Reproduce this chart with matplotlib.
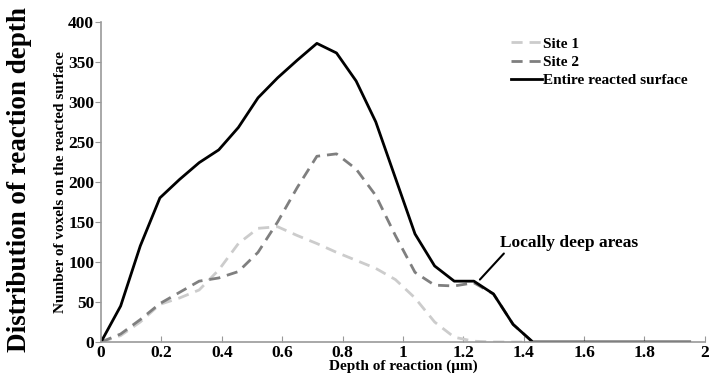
import numpy as np
import matplotlib
matplotlib.use("Agg")
import matplotlib.pyplot as plt

plt.rcParams['font.family'] = ['Liberation Serif', 'DejaVu Serif']
plt.rcParams['font.weight'] = 'bold'

step = 0.065
depth_entire = [round(i * step, 3) for i in range(31)]
entire = [0, 45, 120, 180, 203, 224, 240, 268, 305, 330, 352, 373, 361, 326, 275,
          205, 135, 95, 76, 76, 60, 22, 0, 0, 0, 0, 0, 0, 0, 0, 0]

depth_site2 = [round(i * step, 3) for i in range(23)]
site2 = [0, 10, 28, 48, 62, 76, 80, 88, 112, 150, 193, 232, 235, 216, 183,
         133, 87, 71, 70, 74, 60, 22, 0]

depth_site1 = [round(i * step, 3) for i in range(23)]
site1 = [0, 8, 25, 47, 55, 65, 90, 123, 142, 144, 133, 123, 112, 102, 92,
         78, 55, 25, 6, 1, 0, 0, 0]

xticks = [0, 0.2, 0.4, 0.6, 0.8, 1, 1.2, 1.4, 1.6, 1.8, 2]
xticklabels = ['0', '0.2', '0.4', '0.6', '0.8', '1', '1.2', '1.4', '1.6', '1.8', '2']
yticks = [0, 50, 100, 150, 200, 250, 300, 350, 400]

fig = plt.figure(figsize=(7.12, 3.79), dpi=100)
ax = fig.add_axes([0.1419, 0.0976, 0.848, 0.845])

ax.plot(depth_site1, site1, color='#cccccc', lw=2, dashes=(4, 2.5), label='Site 1')
ax.plot(depth_site2, site2, color='#7f7f7f', lw=2, dashes=(4, 2.5), label='Site 2')
ax.plot(depth_entire, entire, color='black', lw=2, label='Entire reacted surface')

ax.set_xlim(0, 2)
ax.set_ylim(0, 400)
ax.set_xticks(xticks)
ax.set_xticklabels(xticklabels)
ax.set_yticks(yticks)
for s in ['top', 'right']:
    ax.spines[s].set_visible(False)
for s in ['left', 'bottom']:
    ax.spines[s].set_color('#999999')
    ax.spines[s].set_linewidth(1.2)
ax.tick_params(axis='x', direction='in', length=4, color='#999999', labelsize=12.5, pad=2)
ax.tick_params(axis='y', direction='out', length=4, color='#999999', labelsize=12.5, pad=1)
for lab in ax.get_xticklabels() + ax.get_yticklabels():
    lab.set_fontweight('bold')

ax.set_xlabel('Depth of reaction (μm)', fontsize=11, fontweight='bold', labelpad=-1)
ax.set_ylabel('Number of voxels on the reacted surface', fontsize=11, fontweight='bold', labelpad=1)
fig.text(0.027, 0.525, 'Distribution of reaction depth', rotation=90, fontsize=19.5,
         fontweight='bold', ha='center', va='center')

leg = ax.legend(loc='upper right', bbox_to_anchor=(0.995, 0.995), frameon=False,
                handlelength=2.0, handletextpad=0.1, labelspacing=0.3,
                prop={'weight': 'bold', 'size': 11})

ax.annotate('Locally deep areas', xy=(1.255, 78), xytext=(1.32, 124),
            fontsize=12.5, fontweight='bold', ha='left', va='center',
            arrowprops=dict(arrowstyle='-', color='black', lw=1.5,
                            shrinkA=0, shrinkB=0, relpos=(0.05, 0.0)))

fig.savefig('out.png', dpi=100)
